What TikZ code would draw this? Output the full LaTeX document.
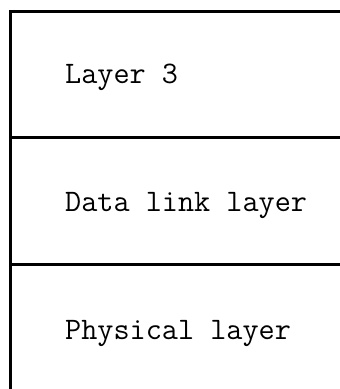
\documentclass[tikz,border=0pt]{standalone}
\usepackage{fontspec}
\usetikzlibrary{positioning}

\begin{document}
\begin{tikzpicture}[x=1pt,y=1pt,
        rule/.style={line width=3pt,line join=miter},
        layer/.style={anchor=base west,inner sep=0pt,font=\fontsize{31.3}{35}\selectfont\ttfamily}]
        \useasboundingbox (0,0) rectangle (340,389);
        % frame: left edge and top edge, open at right and bottom
        \draw[rule] (340,377) -- (10,377) -- (10,0);
        \draw[rule] (10,251) -- (340,251);
        \draw[rule] (10,124) -- (340,124);
        \node[layer] (l3) at (65,305) {Layer 3};
        \node[layer] (dll) at (65,177) {Data link layer};
        \node[layer] (phy) at (65,49) {Physical layer};
      \end{tikzpicture}
\end{document}
